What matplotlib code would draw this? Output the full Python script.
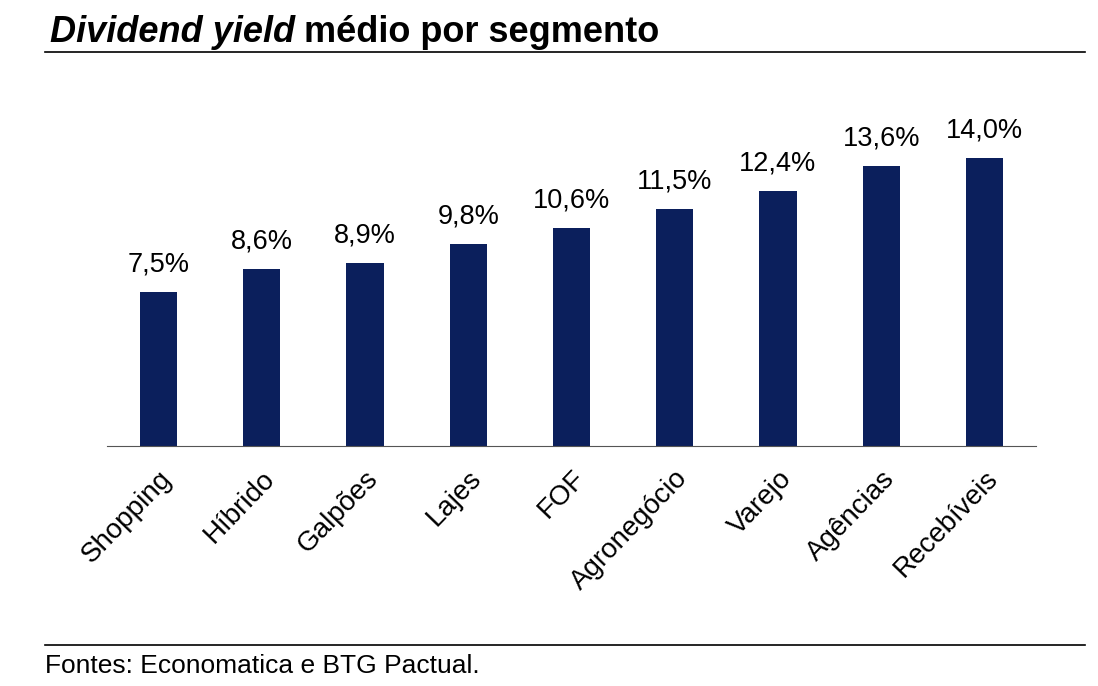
import matplotlib
matplotlib.use("Agg")
import matplotlib.pyplot as plt
from matplotlib.lines import Line2D

categories = ["Shopping", "Híbrido", "Galpões", "Lajes", "FOF", "Agronegócio", "Varejo", "Agências", "Recebíveis"]
values = [7.5, 8.6, 8.9, 9.8, 10.6, 11.5, 12.4, 13.6, 14.0]
labels = ["7,5%", "8,6%", "8,9%", "9,8%", "10,6%", "11,5%", "12,4%", "13,6%", "14,0%"]

W, H = 1098, 686
fig = plt.figure(figsize=(W/100, H/100), dpi=100)
plt.rcParams['font.family'] = ['Liberation Sans', 'DejaVu Sans']
ax = fig.add_axes([107/W, 1-446/H, (1036-107)/W, 309/H])
x = range(len(categories))
ax.bar(x, values, width=0.36, color="#0b1f5c")
for i, (v, l) in enumerate(zip(values, labels)):
    ax.text(i, v + 0.7, l, ha="center", va="bottom", fontsize=19.5)
ax.set_xlim(-0.5, 8.5)
ax.set_ylim(0, 15)
ax.set_yticks([])
ax.set_xticks(list(x))
ax.set_xticklabels(categories, rotation=46, ha="right", rotation_mode="anchor", fontsize=20)
ax.tick_params(axis="x", length=0, pad=14)
for s in ["top", "right", "left"]:
    ax.spines[s].set_visible(False)
ax.spines["bottom"].set_color("#555555")

t1 = fig.text(50/W, 1-33/H, "Dividend yield", fontsize=26, fontweight="bold", style="italic", va="center")
fig.canvas.draw()
bb = t1.get_window_extent()
fig.text(bb.x1/W + 0.008, 1-33/H, "médio por segmento", fontsize=26, fontweight="bold", va="center")
fig.add_artist(Line2D([45/W, 1085/W], [1-52/H, 1-52/H], color="black", lw=1.2))
fig.add_artist(Line2D([45/W, 1085/W], [1-645/H, 1-645/H], color="black", lw=1.2))
fig.text(45/W, 1-666/H, "Fontes: Economatica e BTG Pactual.", fontsize=19, va="center")
fig.savefig("out.png", dpi=100)
